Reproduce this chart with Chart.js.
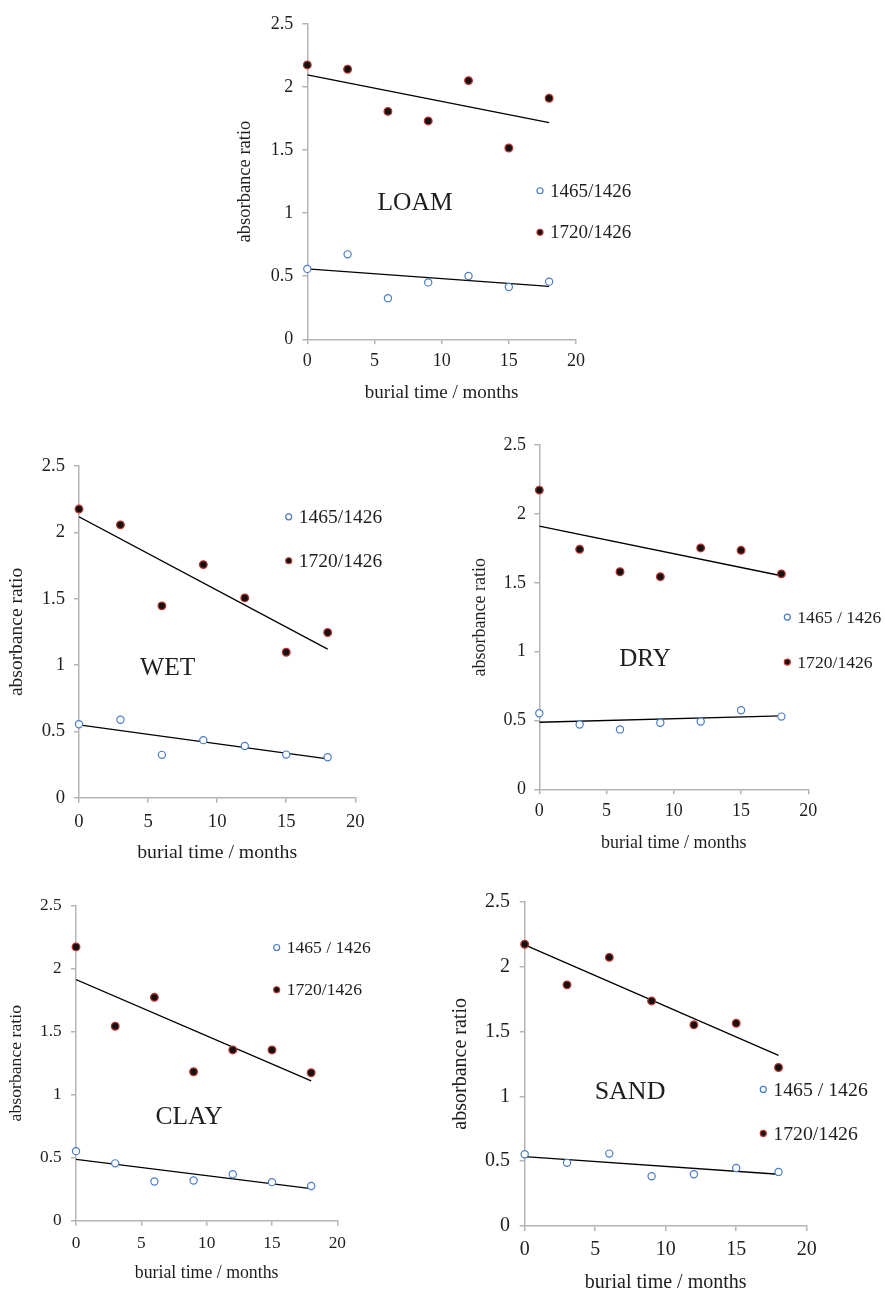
<!DOCTYPE html>
<html lang="en">
<head>
<meta charset="UTF-8">
<title>Absorbance ratio vs burial time</title>
<style>
  html, body { margin: 0; padding: 0; background: #fff; overflow: hidden; }
  body { width: 885px; height: 1292px; position: relative; }
  canvas { position: absolute; }
</style>
</head>
<body>
<canvas id="loamChart"></canvas>
<canvas id="wetChart"></canvas>
<canvas id="dryChart"></canvas>
<canvas id="clayChart"></canvas>
<canvas id="sandChart"></canvas>

<script src="https://cdn.jsdelivr.net/npm/chart.js"></script>
<script>
// burial times (months) and axis ticks
const months = [0, 3, 6, 9, 12, 15, 18];
const trendMonths = [0, 18];
const xTicks = [0, 5, 10, 15, 20];
const yTicks = [0, 0.5, 1, 1.5, 2, 2.5];

// LOAM
const loam1465 = [0.558, 0.673, 0.326, 0.451, 0.501, 0.415, 0.457];
const loam1720 = [2.174, 2.140, 1.806, 1.730, 2.050, 1.516, 1.910];
const loamTrend1465 = [0.558, 0.420];
const loamTrend1720 = [2.095, 1.717];

// WET
const wet1465 = [0.554, 0.588, 0.323, 0.434, 0.390, 0.325, 0.305];
const wet1720 = [2.177, 2.058, 1.447, 1.758, 1.507, 1.097, 1.246];
const wetTrend1465 = [0.549, 0.293];
const wetTrend1720 = [2.118, 1.120];

// DRY
const dry1465 = [0.552, 0.471, 0.435, 0.483, 0.492, 0.574, 0.528];
const dry1720 = [2.173, 1.743, 1.580, 1.544, 1.753, 1.736, 1.565];
const dryTrend1465 = [0.487, 0.533];
const dryTrend1720 = [1.911, 1.551];

// CLAY
const clay1465 = [0.552, 0.455, 0.311, 0.319, 0.369, 0.306, 0.275];
const clay1720 = [2.173, 1.543, 1.773, 1.182, 1.355, 1.355, 1.174];
const clayTrend1465 = [0.486, 0.254];
const clayTrend1720 = [1.914, 1.109];

// SAND
const sand1465 = [0.553, 0.487, 0.558, 0.384, 0.399, 0.447, 0.417];
const sand1720 = [2.172, 1.859, 2.071, 1.735, 1.551, 1.563, 1.222];
const sandTrend1465 = [0.535, 0.399];
const sandTrend1720 = [2.167, 1.316];

const SERIF = "'Liberation Serif', 'Times New Roman', serif";
const AXIS_GRAY = '#b4b4b4';
const TEXT = '#1e1e1e';
const BLUE = '#4a7bc8';
const RIM = '#b8322e';

const panels = [
  { id: 'loamChart', name: 'LOAM', r1465: loam1465, r1720: loam1720, t1465: loamTrend1465, t1720: loamTrend1720,
    label1465: '1465/1426',
    box: { plotL: 307.3, plotR: 576, plotT: 20, plotB: 339.3, yTitleX: 245, xTitleY: 393, right: 650 },
    font: { tick: 18, yTitle: 18.5, xTitle: 19, legend: 19, name: 25.5 },
    gap: { y: 9, x: 6.6 }, namePos: [8.02, 1.075], legendPos: [17.32, 1.177, 0.848] },
  { id: 'wetChart', name: 'WET', r1465: wet1465, r1720: wet1720, t1465: wetTrend1465, t1720: wetTrend1720,
    label1465: '1465/1426',
    box: { plotL: 79, plotR: 355.3, plotT: 462, plotB: 797.7, yTitleX: 16.7, xTitleY: 853, right: 420 },
    font: { tick: 18.7, yTitle: 19.5, xTitle: 19.8, legend: 19.5, name: 25.5 },
    gap: { y: 9, x: 7.8 }, namePos: [6.42, 0.976], legendPos: [15.18, 2.118, 1.787] },
  { id: 'dryChart', name: 'DRY', r1465: dry1465, r1720: dry1720, t1465: dryTrend1465, t1720: dryTrend1720,
    label1465: '1465 / 1426',
    box: { plotL: 539.3, plotR: 808.3, plotT: 442.3, plotB: 789.3, yTitleX: 479.3, xTitleY: 842.7, right: 885 },
    font: { tick: 18, yTitle: 18, xTitle: 18, legend: 17.6, name: 25 },
    gap: { y: 8.3, x: 5.9 }, namePos: [7.86, 0.944], legendPos: [18.44, 1.251, 0.924] },
  { id: 'clayChart', name: 'CLAY', r1465: clay1465, r1720: clay1720, t1465: clayTrend1465, t1720: clayTrend1720,
    label1465: '1465 / 1426',
    box: { plotL: 76, plotR: 337.3, plotT: 902, plotB: 1220.7, yTitleX: 16.7, xTitleY: 1273.3, right: 400 },
    font: { tick: 17.3, yTitle: 17.7, xTitle: 17.8, legend: 17.6, name: 25.5 },
    gap: { y: 9.3, x: 7.2 }, namePos: [8.65, 0.824], legendPos: [15.36, 2.168, 1.833] },
  { id: 'sandChart', name: 'SAND', r1465: sand1465, r1720: sand1720, t1465: sandTrend1465, t1720: sandTrend1720,
    label1465: '1465 / 1426',
    box: { plotL: 524.7, plotR: 806.7, plotT: 896, plotB: 1226, yTitleX: 460.7, xTitleY: 1283.3, right: 885 },
    font: { tick: 20, yTitle: 20, xTitle: 20, legend: 19.8, name: 26 },
    gap: { y: 9.7, x: 7 }, namePos: [7.47, 1.03], legendPos: [16.92, 1.053, 0.714] }
];

// panel name + in-plot legend
const overlayPlugin = {
  id: 'overlay',
  afterDatasetsDraw(chart) {
    const p = chart.options.plugins.overlay;
    const { ctx, scales: { x, y } } = chart;
    ctx.save();
    ctx.fillStyle = TEXT;
    ctx.textAlign = 'center';
    ctx.textBaseline = 'middle';
    ctx.font = p.name.size + 'px ' + SERIF;
    ctx.fillText(p.name.text, x.getPixelForValue(p.name.at[0]), y.getPixelForValue(p.name.at[1]));

    const mx = x.getPixelForValue(p.legend.at[0]);
    ctx.font = p.legend.size + 'px ' + SERIF;
    ctx.textAlign = 'left';
    chart.data.datasets.slice(0, 2).forEach((ds, i) => {
      const my = y.getPixelForValue(p.legend.at[i + 1]);
      ctx.beginPath();
      ctx.arc(mx, my, 3, 0, Math.PI * 2);
      ctx.fillStyle = ds.pointBackgroundColor;
      ctx.fill();
      ctx.lineWidth = 1.2;
      ctx.strokeStyle = ds.pointBorderColor;
      ctx.stroke();
      ctx.fillStyle = TEXT;
      ctx.fillText(ds.label, mx + 10, my + 1);
    });
    ctx.restore();
  }
};

function makeChart(p) {
  const b = p.box;
  const left = Math.round(b.yTitleX - p.font.yTitle * 0.6);
  const top = Math.round(b.plotT - 16);
  const bottom = Math.round(b.xTitleY + p.font.xTitle * 0.6);
  const width = Math.round(b.right - left);
  const height = bottom - top;
  const canvas = document.getElementById(p.id);
  canvas.style.left = left + 'px';
  canvas.style.top = top + 'px';
  canvas.width = width;
  canvas.height = height;

  const yW = b.plotL - left;
  const xH = bottom - b.plotB;
  const pts = vals => months.map((m, i) => ({ x: m, y: vals[i] }));
  const trend = vals => trendMonths.map((m, i) => ({ x: m, y: vals[i] }));

  const grid = { display: true, drawOnChartArea: false, drawTicks: true, tickLength: 5, color: AXIS_GRAY, lineWidth: 1.5 };
  const border = { display: true, color: AXIS_GRAY, width: 1.5 };

  return new Chart(canvas.getContext('2d'), {
    type: 'scatter',
    data: {
      datasets: [
        { label: p.label1465, data: pts(p.r1465), showLine: false, pointRadius: 3.6, pointBorderWidth: 1.2,
          pointBackgroundColor: '#ffffff', pointBorderColor: BLUE, clip: false },
        { label: '1720/1426', data: pts(p.r1720), showLine: false, pointRadius: 3.8, pointBorderWidth: 1.3,
          pointBackgroundColor: '#111111', pointBorderColor: RIM, clip: false },
        { label: 'trend 1465', data: trend(p.t1465), showLine: true, borderColor: '#000', borderWidth: 1.3, pointRadius: 0 },
        { label: 'trend 1720', data: trend(p.t1720), showLine: true, borderColor: '#000', borderWidth: 1.3, pointRadius: 0 }
      ]
    },
    options: {
      responsive: false,
      animation: false,
      devicePixelRatio: 1,
      layout: { padding: { left: 0, top: b.plotT - top, right: width - (b.plotR - left), bottom: 0 } },
      plugins: {
        legend: { display: false },
        tooltip: { enabled: false },
        overlay: {
          name: { text: p.name, size: p.font.name, at: p.namePos },
          legend: { size: p.font.legend, at: p.legendPos }
        }
      },
      scales: {
        x: {
          type: 'linear', position: 'bottom', min: 0, max: 20,
          afterFit: s => { s.height = xH; },
          afterBuildTicks: s => { s.ticks = xTicks.map(v => ({ value: v })); },
          ticks: { padding: p.gap.x, maxRotation: 0, autoSkip: false, color: TEXT,
                   font: { family: SERIF, size: p.font.tick }, callback: v => String(v) },
          grid, border,
          title: { display: true, text: 'burial time / months', color: TEXT, padding: 0,
                   font: { family: SERIF, size: p.font.xTitle } }
        },
        y: {
          type: 'linear', position: 'left', min: 0, max: 2.5,
          afterFit: s => { s.width = yW; },
          afterBuildTicks: s => { s.ticks = yTicks.map(v => ({ value: v })); },
          ticks: { padding: p.gap.y, color: TEXT, autoSkip: false,
                   font: { family: SERIF, size: p.font.tick }, callback: v => String(v) },
          grid, border,
          title: { display: true, text: 'absorbance ratio', color: TEXT, padding: 0,
                   font: { family: SERIF, size: p.font.yTitle } }
        }
      }
    },
    plugins: [overlayPlugin]
  });
}

panels.forEach(makeChart);
</script>
</body>
</html>
